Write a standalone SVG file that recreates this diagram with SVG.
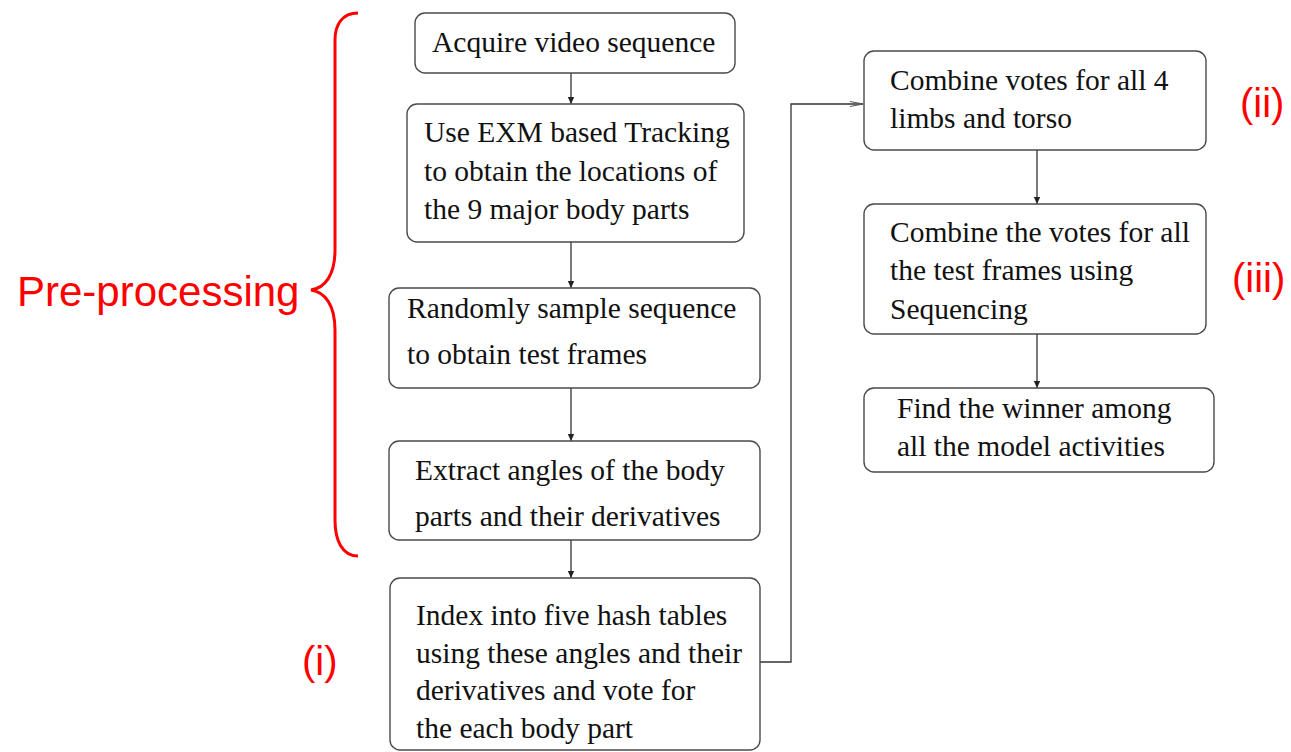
<svg xmlns="http://www.w3.org/2000/svg" width="1291" height="752" viewBox="0 0 1291 752">
  <style>
    .box { fill: #ffffff; stroke: #4a4a4a; stroke-width: 1.4; }
    .txt { font-family: "Liberation Serif", "Times New Roman", serif; font-size: 29.5px; fill: #111111; }
    .lbl { font-family: "Liberation Sans", Arial, sans-serif; fill: #ff0000; }
    .edge { fill: none; stroke: #333333; stroke-width: 1.3; }
  </style>
  <defs>
    <marker id="arr" markerWidth="8" markerHeight="8" refX="7" refY="4" orient="auto" markerUnits="userSpaceOnUse">
      <path d="M0,0.8 L7,4 L0,7.2 Z" fill="#222222"/>
    </marker>
    <marker id="arrOpen" markerWidth="14" markerHeight="8" refX="13" refY="4" orient="auto" markerUnits="userSpaceOnUse">
      <path d="M0,1.5 L13,4 L0,6.5" fill="none" stroke="#555555" stroke-width="1.1"/>
    </marker>
  </defs>
  <rect width="1291" height="752" fill="#ffffff"/>

  <!-- connectors -->
  <g id="connectors">
    <line class="edge" x1="571" y1="73" x2="571" y2="104" marker-end="url(#arr)"/>
    <line class="edge" x1="571" y1="242" x2="571" y2="288" marker-end="url(#arr)"/>
    <line class="edge" x1="571" y1="388" x2="571" y2="441" marker-end="url(#arr)"/>
    <line class="edge" x1="571" y1="540" x2="571" y2="578" marker-end="url(#arr)"/>
    <polyline class="edge" points="760,662 791,662 791,104 863,104" marker-end="url(#arrOpen)"/>
    <line class="edge" x1="1037" y1="150" x2="1037" y2="204" marker-end="url(#arr)"/>
    <line class="edge" x1="1037" y1="334" x2="1037" y2="388" marker-end="url(#arr)"/>
  </g>

  <!-- left column -->
  <g id="acquire">
    <rect class="box" x="415" y="13" width="320" height="60" rx="10"/>
    <text class="txt" x="432" y="52">Acquire video sequence</text>
  </g>
  <g id="tracking">
    <rect class="box" x="407" y="104" width="337" height="138" rx="10"/>
    <text class="txt" x="424" y="142">Use EXM based Tracking</text>
    <text class="txt" x="424" y="181">to obtain the locations of</text>
    <text class="txt" x="424" y="219">the 9 major body parts</text>
  </g>
  <g id="sample">
    <rect class="box" x="389" y="288" width="371" height="100" rx="10"/>
    <text class="txt" x="407" y="318">Randomly sample sequence</text>
    <text class="txt" x="407" y="364">to obtain test frames</text>
  </g>
  <g id="angles">
    <rect class="box" x="389" y="441" width="371" height="99" rx="10"/>
    <text class="txt" x="415" y="480">Extract angles of the body</text>
    <text class="txt" x="415" y="526">parts and their derivatives</text>
  </g>
  <g id="hash">
    <rect class="box" x="390" y="578" width="370" height="172" rx="10"/>
    <text class="txt" x="416" y="625">Index into five hash tables</text>
    <text class="txt" x="416" y="663">using these angles and their</text>
    <text class="txt" x="416" y="700">derivatives and vote for</text>
    <text class="txt" x="416" y="738">the each body part</text>
  </g>

  <!-- right column -->
  <g id="limbs">
    <rect class="box" x="864" y="51" width="342" height="99" rx="10"/>
    <text class="txt" x="890" y="90">Combine votes for all 4</text>
    <text class="txt" x="890" y="128">limbs and torso</text>
  </g>
  <g id="sequencing">
    <rect class="box" x="864" y="204" width="342" height="130" rx="10"/>
    <text class="txt" x="890" y="242">Combine the votes for all</text>
    <text class="txt" x="890" y="280">the test frames using</text>
    <text class="txt" x="890" y="319">Sequencing</text>
  </g>
  <g id="winner">
    <rect class="box" x="864" y="388" width="350" height="84" rx="10"/>
    <text class="txt" x="897" y="418">Find the winner among</text>
    <text class="txt" x="897" y="456">all the model activities</text>
  </g>

  <!-- annotations -->
  <g id="preprocessing">
    <path d="M358,13 C342,13 335,25 335,40 L335,250 C335,275 325,288 311,290 C325,292 335,305 335,330 L335,520 C335,540 342,556 358,556" fill="none" stroke="#ff0000" stroke-width="3"/>
    <text class="lbl" x="17" y="306" font-size="42">Pre-processing</text>
  </g>
  <text class="lbl" x="302" y="675" font-size="40">(i)</text>
  <text class="lbl" x="1240" y="117" font-size="40">(ii)</text>
  <text class="lbl" x="1232" y="292" font-size="40">(iii)</text>
</svg>
